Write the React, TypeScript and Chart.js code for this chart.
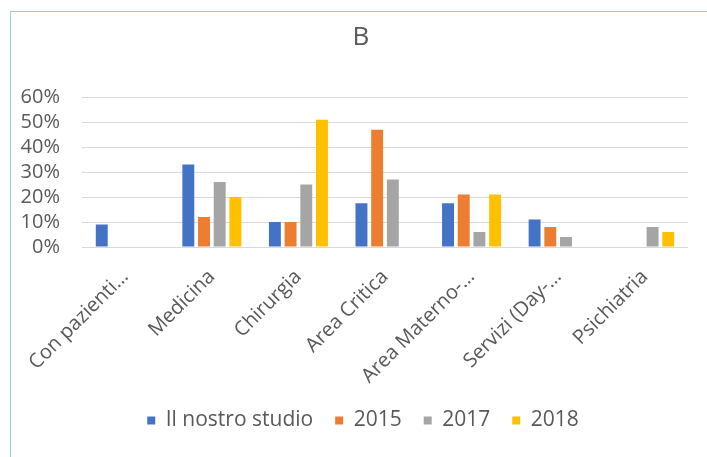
import React, { useEffect, useRef } from "react";
import { Chart, registerables } from "chart.js";

Chart.register(...registerables);

const categories = [
  "Con pazienti…",
  "Medicina",
  "Chirurgia",
  "Area Critica",
  "Area Materno-…",
  "Servizi (Day-…",
  "Psichiatria",
];
const nostroStudio = [9, 33, 10, 17.5, 17.5, 11, null];
const v2015 = [null, 12, 10, 47, 21, 8, null];
const v2017 = [null, 26, 25, 27, 6, 4, 8];
const v2018 = [null, 20, 51, null, 21, null, 6];
const yTicks = [0, 10, 20, 30, 40, 50, 60];

const FONT = "'Open Sans', 'DejaVu Sans', sans-serif";
const TEXT = "#595959";

const shiftBlocks = {
  id: "shiftBlocks",
  afterLayout(c: any) {
    const t = c.titleBlock;
    if (t) {
      t.left += 12;
      t.right += 12;
    }
    const l = c.legend;
    if (l) {
      l.left += 14;
      l.right += 14;
    }
  },
};

export default function App() {
  const ref = useRef<HTMLCanvasElement | null>(null);
  useEffect(() => {
    if (!ref.current) return;
    const chart = new Chart(ref.current, {
      type: "bar",
      data: {
        labels: categories,
        datasets: [
          { label: "Il nostro studio", data: nostroStudio, backgroundColor: "#4472C4" },
          { label: "2015", data: v2015, backgroundColor: "#ED7D31" },
          { label: "2017", data: v2017, backgroundColor: "#A5A5A5" },
          { label: "2018", data: v2018, backgroundColor: "#FFC000" },
        ],
      },
      plugins: [shiftBlocks],
      options: {
        responsive: false,
        animation: false,
        devicePixelRatio: 1,
        datasets: { bar: { categoryPercentage: 0.725, barPercentage: 0.76 } },
        layout: { padding: { left: 10, right: 19, top: 0, bottom: 16 } },
        plugins: {
          tooltip: { enabled: false },
          title: {
            display: true,
            text: "B",
            color: TEXT,
            font: { family: FONT, size: 26, weight: "normal" },
            padding: { top: 22, bottom: 44 },
          },
          legend: {
            position: "bottom",
            labels: {
              color: TEXT,
              font: { family: FONT, size: 21 },
              boxWidth: 8,
              boxHeight: 8,
              padding: 22,
            },
          },
        },
        scales: {
          x: {
            grid: { display: false },
            border: { display: false },
            ticks: {
              color: TEXT,
              font: { family: FONT, size: 20 },
              minRotation: 45,
              maxRotation: 45,
              padding: 10,
              autoSkip: false,
            },
            afterFit: (s: any) => {
              s.height = 141;
            },
          },
          y: {
            min: 0,
            max: 60,
            grid: { color: "#D9D9D9", drawTicks: false, lineWidth: 1 },
            border: { display: false },
            afterBuildTicks: (s: any) => {
              s.ticks = yTicks.map((v) => ({ value: v }));
            },
            ticks: {
              color: TEXT,
              font: { family: FONT, size: 20 },
              padding: 22,
              autoSkip: false,
              callback: (v: any) => `${v}%`,
            },
            afterFit: (s: any) => {
              s.width = 72;
            },
          },
        },
      },
    });
    return () => chart.destroy();
  }, []);
  return (
    <div style={{ position: "absolute", left: 0, top: 0, width: 707, height: 457, background: "#fff", overflow: "hidden" }}>
      <div
        style={{
          position: "absolute",
          left: 10,
          top: 11,
          right: -2,
          bottom: -2,
          borderTop: "1px solid #9DC8EC",
          borderLeft: "1px solid #9DC8EC",
        }}
      />
      <canvas ref={ref} width={707} height={457} style={{ position: "absolute", left: 0, top: 0 }} />
    </div>
  );
}
